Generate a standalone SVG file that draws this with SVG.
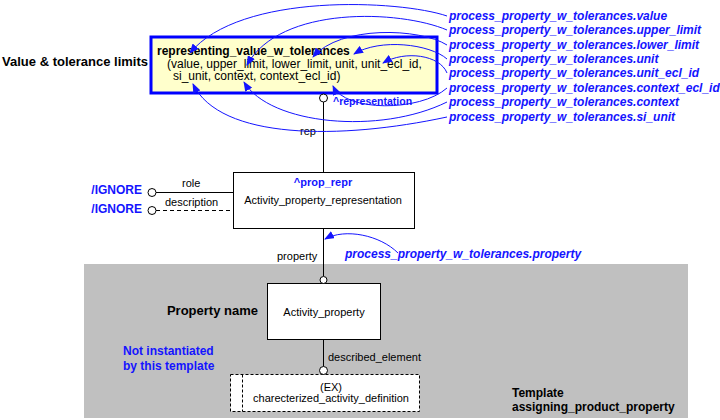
<svg xmlns="http://www.w3.org/2000/svg" width="720" height="420" viewBox="0 0 720 420">
<style>
text{font-family:"Liberation Sans",Arial,sans-serif;fill:#000}
.b{font-weight:bold}
.blue{fill:#1414ff}
.bi{font-weight:bold;font-style:italic;fill:#1414ff;font-size:12px}
.n{font-size:11px}
.mid{text-anchor:middle}
.end{text-anchor:end}
.ln{stroke:#000;stroke-width:1;fill:none}
.cv{stroke:#1414ff;stroke-width:1;fill:none;marker-end:url(#ah)}
.ci{fill:#fff;stroke:#000;stroke-width:1}
</style>
<defs>
<marker id="ah" markerUnits="userSpaceOnUse" markerWidth="10" markerHeight="8" refX="9" refY="4" orient="auto">
<path d="M0,0 L10,4 L0,8 Z" fill="#1414ff"/>
</marker>
</defs>
<rect x="0" y="0" width="720" height="420" fill="#fff"/>
<rect id="template-area" x="84" y="264" width="604" height="154" fill="#c0c0c0"/>

<g id="node-rvwt">
<rect x="151" y="37" width="286" height="56" fill="#ffffcc" stroke="#0000ff" stroke-width="3"/>
<text x="157" y="55" class="b" font-size="12">representing_value_w_tolerances</text>
<text x="167" y="68" font-size="12">(value, upper_limit, lower_limit, unit, unit_ecl_id,</text>
<text x="173" y="80" font-size="12">si_unit,  context, context_ecl_id)</text>
</g>
<text x="148" y="66" class="b end" font-size="13">Value &amp; tolerance limits</text>

<g id="node-apr">
<rect x="233.5" y="172.5" width="181" height="56" fill="#fff" stroke="#000"/>
<text x="323" y="186" class="b blue mid n">^prop_repr</text>
<text x="323" y="204" class="mid n">Activity_property_representation</text>
</g>

<g id="node-ap">
<rect x="267.5" y="283.5" width="113" height="56" fill="#fff" stroke="#000"/>
<text x="324" y="316" class="mid n">Activity_property</text>
</g>
<text x="258" y="315" class="b end" font-size="13">Property name</text>

<g id="node-cad">
<rect x="230.5" y="374.5" width="189" height="37" fill="#fff" stroke="#000" stroke-dasharray="3,2"/>
<line x1="242.5" y1="374.5" x2="242.5" y2="411.5" stroke="#000" stroke-dasharray="3,2"/>
<text x="331" y="391" class="mid n">(EX)</text>
<text x="331" y="402" class="mid n">charecterized_activity_definition</text>
</g>

<g id="labels">
<text x="449" y="20" class="bi">process_property_w_tolerances.value</text>
<text x="449" y="34" class="bi">process_property_w_tolerances.upper_limit</text>
<text x="449" y="48.5" class="bi">process_property_w_tolerances.lower_limit</text>
<text x="449" y="63" class="bi">process_property_w_tolerances.unit</text>
<text x="449" y="77" class="bi">process_property_w_tolerances.unit_ecl_id</text>
<text x="449" y="91.5" class="bi">process_property_w_tolerances.context_ecl_id</text>
<text x="449" y="106" class="bi">process_property_w_tolerances.context</text>
<text x="449" y="120.5" class="bi">process_property_w_tolerances.si_unit</text>
<text x="345" y="258" class="bi">process_property_w_tolerances.property</text>
<text x="142" y="194" class="b blue end" font-size="12">/IGNORE</text>
<text x="142" y="213" class="b blue end" font-size="12">/IGNORE</text>
<text x="123" y="355" class="b blue" font-size="12">Not instantiated</text>
<text x="123" y="370" class="b blue" font-size="12">by this template</text>
<text x="512" y="397" class="b" font-size="12">Template</text>
<text x="512" y="411" class="b" font-size="12">assigning_product_property</text>
</g>

<g id="connectors">
<line x1="323.5" y1="102" x2="323.5" y2="172.5" class="ln"/>
<circle cx="323.5" cy="98" r="4" class="ci"/>
<text x="300" y="135" class="n">rep</text>
<text x="333" y="105" class="b blue" font-size="10.5">^representation</text>

<line x1="156" y1="192.5" x2="233.5" y2="192.5" class="ln"/>
<circle cx="152" cy="192.5" r="4" class="ci"/>
<text x="182" y="187" class="n">role</text>
<line x1="156" y1="210.5" x2="233.5" y2="210.5" class="ln" stroke-dasharray="4,3"/>
<circle cx="152" cy="210.5" r="4" class="ci"/>
<text x="165" y="206" class="n">description</text>

<line x1="323.5" y1="228.5" x2="323.5" y2="276" class="ln"/>
<circle cx="323.5" cy="280" r="3.5" class="ci"/>
<text x="277" y="260" class="n">property</text>

<line x1="323.5" y1="339.5" x2="323.5" y2="366.5" class="ln"/>
<circle cx="323.5" cy="370.5" r="4" class="ci"/>
<text x="328" y="361" class="n">described_element</text>

<path class="cv" d="M447,16 C400,0 240,-8 190,53"/>
<path class="cv" d="M447,30 C400,10 280,5 247,65"/>
<path class="cv" d="M447,45 C420,28 340,25 313,57"/>
<path class="cv" d="M447,59 C430,44 380,38 354,54"/>
<path class="cv" d="M447,73 C440,55 405,50 383,63"/>
<path class="cv" d="M447,88 C420,112 345,112 333,86"/>
<path class="cv" d="M447,102 C380,135 270,125 244,82"/>
<path class="cv" d="M447,117 C340,140 220,140 193,84"/>
<path class="cv" d="M398,253 C380,235 345,228 325,239"/>
</g>
</svg>
